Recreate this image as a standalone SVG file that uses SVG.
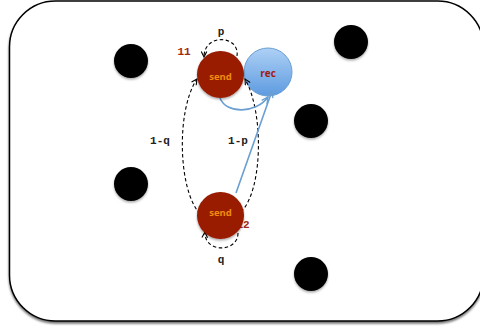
<svg xmlns="http://www.w3.org/2000/svg" width="480" height="331" viewBox="0 0 480 331">
  <style>
    .dot { fill: #000; filter: url(#soft); }
    .send { fill: #991a02; filter: url(#soft); }
    .sendtxt { font-family: "Open Sans", "DejaVu Sans", sans-serif; font-size: 9.5px; font-weight: bold; fill: #f28a0e; text-anchor: middle; }
    .rectxt { font-family: "Open Sans", "DejaVu Sans", sans-serif; font-size: 10px; font-weight: bold; fill: #a11e0c; text-anchor: middle; }
    .prob { font-family: "Liberation Mono", "Courier New", monospace; font-size: 11px; font-weight: bold; fill: #222; text-anchor: middle; }
    .state { font-family: "Liberation Mono", "Courier New", monospace; font-size: 11px; font-weight: bold; fill: #a2280f; text-anchor: middle; }
    .dash { fill: none; stroke: #000; stroke-width: 1.1; stroke-dasharray: 3.5 2.5; marker-end: url(#headK); }
    .blue { fill: none; stroke: #6a9fd2; stroke-width: 1.6; marker-end: url(#headB); }
  </style>
  <defs>
    <filter id="soft" x="-30%" y="-30%" width="160%" height="170%">
      <feDropShadow dx="0" dy="1.5" stdDeviation="1" flood-color="#000" flood-opacity="0.35"/>
    </filter>
    <filter id="frameShadow" x="-5%" y="-5%" width="110%" height="112%">
      <feDropShadow dx="0" dy="2" stdDeviation="1.2" flood-color="#000" flood-opacity="0.55"/>
    </filter>
    <linearGradient id="recFill" x1="0" y1="0" x2="0" y2="1">
      <stop offset="0" stop-color="#aed0f5"/>
      <stop offset="1" stop-color="#5d9be0"/>
    </linearGradient>
    <marker id="headK" viewBox="0 0 10 10" refX="9" refY="5" markerWidth="7" markerHeight="7" orient="auto" markerUnits="userSpaceOnUse">
      <path d="M1,1 L9,5 L1,9" fill="none" stroke="#000" stroke-width="1.6"/>
    </marker>
    <marker id="headB" viewBox="0 0 10 10" refX="9" refY="5" markerWidth="8" markerHeight="8" orient="auto" markerUnits="userSpaceOnUse">
      <path d="M1,1 L9,5 L1,9" fill="none" stroke="#6a9fd2" stroke-width="1.6"/>
    </marker>
  </defs>

  <!-- frame -->
  <rect x="9.5" y="1" width="474" height="320" rx="46" ry="46" fill="#fff" stroke="#000" stroke-width="1.5" filter="url(#frameShadow)"/>

  <!-- scattered nodes -->
  <g id="dot-a"><circle class="dot" cx="131" cy="61" r="17"/></g>
  <g id="dot-b"><circle class="dot" cx="351" cy="42" r="17"/></g>
  <g id="dot-c"><circle class="dot" cx="311" cy="121" r="17"/></g>
  <g id="dot-d"><circle class="dot" cx="131" cy="184" r="17"/></g>
  <g id="dot-e"><circle class="dot" cx="311" cy="274" r="17"/></g>

  <!-- state labels sit under the circles -->
  <text class="state" x="184" y="55">11</text>
  <text class="state" x="243" y="228">12</text>

  <g id="rec">
    <circle cx="268" cy="72" r="24" fill="url(#recFill)" stroke="#6a9fd2" stroke-width="1"/>
    <text class="rectxt" x="268" y="77">rec</text>
  </g>

  <!-- connectors -->
  <g id="connectors">
    <path class="dash" d="M237,56 C240,35 204,33 204,57"/>
    <path class="dash" d="M200,214 C178,190 176,110 197,79"/>
    <path class="dash" d="M241,212 C263,190 264,112 245,79"/>
    <path class="dash" d="M238,233 C238,253 204,253 205,232"/>
    <path class="blue" d="M220,98 C226,114 256,114 268,97"/>
    <path class="blue" d="M236,193 L272,91"/>
  </g>

  <!-- probability labels -->
  <text class="prob" x="221" y="35">p</text>
  <text class="prob" x="160" y="144">1-q</text>
  <text class="prob" x="238" y="144">1-p</text>
  <text class="prob" x="221" y="263">q</text>

  <g id="send-top">
    <circle class="send" cx="220.5" cy="74.5" r="23.5"/>
    <text class="sendtxt" x="220.5" y="80">send</text>
  </g>
  <g id="send-bottom">
    <circle class="send" cx="220.5" cy="215.5" r="23.5"/>
    <text class="sendtxt" x="220.5" y="216">send</text>
  </g>
</svg>
